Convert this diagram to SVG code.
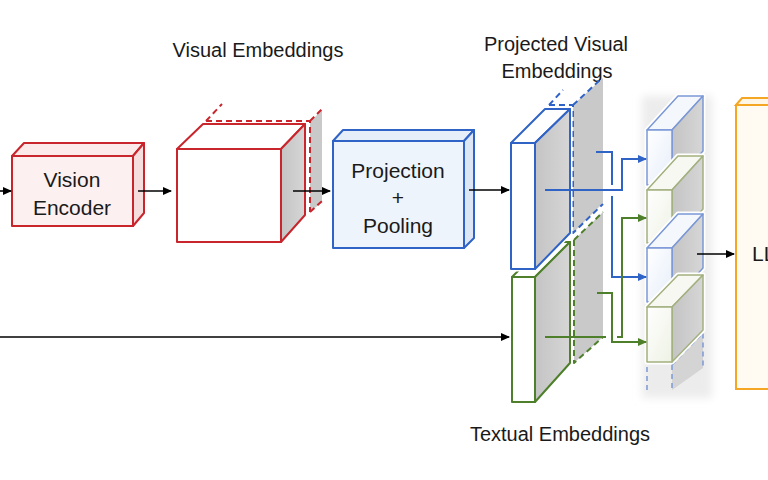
<svg xmlns="http://www.w3.org/2000/svg" width="768" height="480" viewBox="0 0 768 480">
<style>
text{font-family:"Liberation Sans",Arial,sans-serif;font-size:20px;fill:#1a1a1a}
.lbl{text-anchor:middle}
.big{font-size:21px}
.red{stroke:#C8252C;stroke-width:2;stroke-linejoin:round}
.blue{stroke:#2F63C6;stroke-width:2;stroke-linejoin:round}
.green{stroke:#4E7F2A;stroke-width:2;stroke-linejoin:round}
.cb{stroke:#7B98D6;stroke-width:1.5;stroke-linejoin:round}
.cg{stroke:#A3B07F;stroke-width:1.5;stroke-linejoin:round}
.dash{fill:none;stroke-dasharray:6 4}
.gray{fill:#c9c9c9}
.halo{fill:none;stroke:#fff;stroke-width:5;stroke-linejoin:round}
.k{fill:none;stroke:#000;stroke-width:1.6}
.bl{fill:none;stroke:#2F63C6;stroke-width:2}
.gr{fill:none;stroke:#4E7F2A;stroke-width:2}
</style>
<defs>
<marker id="ak" markerUnits="userSpaceOnUse" markerWidth="9" markerHeight="8" refX="8" refY="4" orient="auto"><path d="M0,0 L9,4 L0,8 z" fill="#000"/></marker>
<marker id="ab" markerUnits="userSpaceOnUse" markerWidth="9" markerHeight="8" refX="8" refY="4" orient="auto"><path d="M0,0 L9,4 L0,8 z" fill="#2F63C6"/></marker>
<marker id="ag" markerUnits="userSpaceOnUse" markerWidth="9" markerHeight="8" refX="8" refY="4" orient="auto"><path d="M0,0 L9,4 L0,8 z" fill="#4E7F2A"/></marker>
<linearGradient id="side" x1="0" y1="0" x2="1" y2="0"><stop offset="0" stop-color="#c4c4c4"/><stop offset="1" stop-color="#d6d6d6"/></linearGradient>
<linearGradient id="fb" x1="0" y1="0" x2="1" y2="1"><stop offset="0" stop-color="#ffffff"/><stop offset="1" stop-color="#e6eefa"/></linearGradient>
<linearGradient id="fg" x1="0" y1="0" x2="1" y2="1"><stop offset="0" stop-color="#ffffff"/><stop offset="1" stop-color="#eef2e4"/></linearGradient>
<filter id="blur" x="-0.3" y="-0.1" width="1.6" height="1.2"><feGaussianBlur stdDeviation="4"/></filter>
</defs>

<g id="labels">
<text class="lbl" x="258" y="57">Visual Embeddings</text>
<text class="lbl" x="556" y="51">Projected Visual</text>
<text class="lbl" x="557" y="78">Embeddings</text>
<text class="lbl" x="560" y="441">Textual Embeddings</text>
</g>

<g id="vision-encoder">
<polygon points="12,156 24,143 144,143 133,156" fill="#FCEAEA" class="red"/>
<polygon points="133,156 144,143 144,213 133,226" fill="#F7DEDE" class="red"/>
<rect x="12" y="156" width="121" height="70" fill="#FDF0F0" class="red"/>
<text class="lbl big" x="72" y="187">Vision</text>
<text class="lbl big" x="72" y="215">Encoder</text>
</g>

<g id="visual-embeddings">
<polygon class="gray" points="310,122 322,110 322,202 310,212"/>
<path class="red dash" d="M206,121 L222,104 M206,121 H310 V212 M310,121 L322,109 M310,212 L322,201"/>
<polygon points="177,149 203,124 305,124 281,149" fill="#fff" class="red"/>
<polygon points="281,149 305,124 305,215 281,242" fill="url(#side)" class="red"/>
<rect x="177" y="149" width="104" height="93" fill="#fff" class="red"/>
</g>

<g id="projection-pooling">
<polygon points="333,141 343,130 474,130 464,141" fill="#E6EEF9" class="blue"/>
<polygon points="464,141 474,130 474,238 464,248" fill="#DCE6F5" class="blue"/>
<rect x="333" y="141" width="131" height="107" fill="#EEF4FC" class="blue"/>
<text class="lbl big" x="398" y="178">Projection</text>
<text class="lbl big" x="398" y="205">+</text>
<text class="lbl big" x="398" y="233">Pooling</text>
</g>

<g id="projected-visual">
<polygon class="gray" points="573,105 603,78 603,203 573,233"/>
<path class="blue dash" d="M549,105 L563,90 M549,105 H573 V233 L603,204 M573,105 L600,80"/>
</g>

<g id="textual-embeddings">
<polygon class="gray" points="574,240 603,212 603,337 574,363"/>
<path class="green dash" d="M574,240 L603,212 M574,240 V363 L603,337"/>
<polygon points="512,277 547,242 570,242 535,277" fill="#fff" class="green"/>
<polygon points="535,277 570,242 570,363 535,402" fill="url(#side)" class="green"/>
<rect x="512" y="277" width="23" height="125" fill="#fff" class="green"/>
</g>

<g id="projected-visual-slab">
<path class="halo" d="M511,269 V143 L545,109 H570 V233 L535,269 Z"/>
<polygon points="511,143 545,109 570,109 535,143" fill="#fff" class="blue"/>
<polygon points="535,143 570,109 570,233 535,269" fill="url(#side)" class="blue"/>
<rect x="511" y="143" width="24" height="126" fill="#fff" class="blue"/>
</g>

<g id="token-sequence">
<rect x="642" y="96" width="70" height="302" fill="#ececec" filter="url(#blur)"/>
<g id="ghost-cube">
<polygon fill="#d4d4d4" points="672,365 703,333 703,368 672,390"/>
<path fill="none" stroke="#7B98D6" stroke-width="1.5" stroke-dasharray="5 4" d="M647,390 V363 L655,356 M647,363 H672 V390 M672,365 L703,333 V368"/>
</g>
<g id="cube1">
<path class="halo" d="M647,185 V130 L678,96 H703 V151 L672,185 Z"/>
<polygon points="647,130 678,96 703,96 672,130" fill="#f4f7fc" class="cb"/>
<polygon points="672,130 703,96 703,151 672,185" fill="url(#side)" class="cb"/>
<rect x="647" y="130" width="25" height="55" fill="url(#fb)" class="cb"/>
</g>
<g id="cube2">
<path class="halo" d="M647,243 V190 L678,156 H703 V209 L672,243 Z"/>
<polygon points="647,190 678,156 703,156 672,190" fill="#f6f8f1" class="cg"/>
<polygon points="672,190 703,156 703,209 672,243" fill="url(#side)" class="cg"/>
<rect x="647" y="190" width="25" height="53" fill="url(#fg)" class="cg"/>
</g>
<g id="cube3">
<path class="halo" d="M647,302 V248 L678,214 H703 V268 L672,302 Z"/>
<polygon points="647,248 678,214 703,214 672,248" fill="#f4f7fc" class="cb"/>
<polygon points="672,248 703,214 703,268 672,302" fill="url(#side)" class="cb"/>
<rect x="647" y="248" width="25" height="54" fill="url(#fb)" class="cb"/>
</g>
<g id="cube4">
<path class="halo" d="M647,362 V307 L678,275 H703 V330 L672,362 Z"/>
<polygon points="647,307 678,275 703,275 672,307" fill="#f6f8f1" class="cg"/>
<polygon points="672,307 703,275 703,330 672,362" fill="url(#side)" class="cg"/>
<rect x="647" y="307" width="25" height="55" fill="url(#fg)" class="cg"/>
</g>
</g>

<g id="llm">
<polygon points="736,105 742,98 780,98 774,105" fill="#FFF6E6" stroke="#F5A623" stroke-width="2"/>
<rect x="736" y="105" width="50" height="284" fill="#FFFBF3" stroke="#F5A623" stroke-width="2"/>
<text x="752" y="261" class="big">LLM</text>
</g>

<g id="connectors">
<path class="k" d="M0,191 H11" marker-end="url(#ak)"/>
<path class="k" d="M138,191 H171" marker-end="url(#ak)"/>
<path class="k" d="M293,191 H330" marker-end="url(#ak)"/>
<path class="k" d="M469,190 H509" marker-end="url(#ak)"/>
<path class="k" d="M0,337 H509" marker-end="url(#ak)"/>
<path class="k" d="M697,254 H734" marker-end="url(#ak)"/>
<path class="bl" d="M545,190 H622 V159 H646" marker-end="url(#ab)"/>
<path class="bl" d="M596,152 H612 V185"/>
<path class="bl" d="M612,196 V277 H646" marker-end="url(#ab)"/>
<path class="gr" d="M597,293 H612 V342 H646" marker-end="url(#ag)"/>
<path class="gr" d="M545,337 H606"/>
<path class="gr" d="M617,337 H622 V218 H646" marker-end="url(#ag)"/>
</g>
</svg>
